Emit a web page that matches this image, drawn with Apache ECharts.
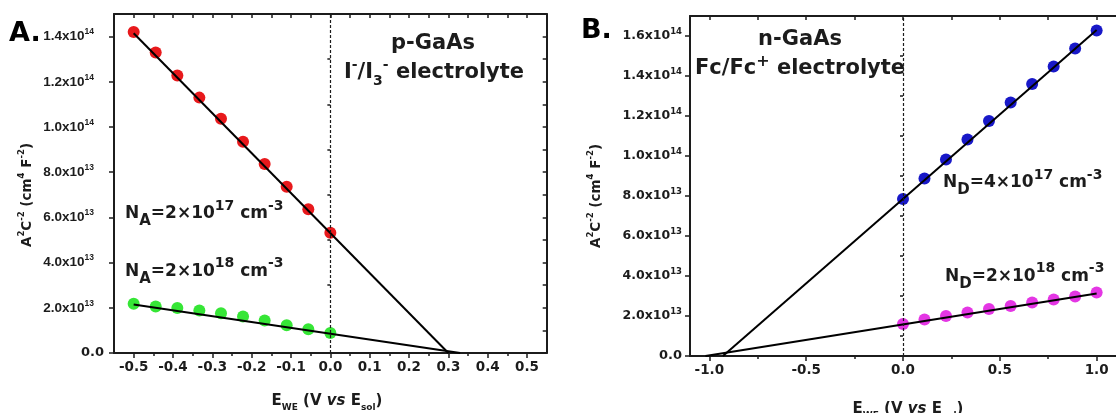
<!DOCTYPE html>
<html>
<head>
<meta charset="utf-8">
<script src="https://cdn.jsdelivr.net/npm/echarts@6/dist/echarts.min.js"></script>
<style>
  html, body { margin: 0; padding: 0; background: #fff; }
  #chart { width: 1116px; height: 413px; }
</style>
</head>
<body>
<div id="chart"></div>
<script>
// ---- Panel A: p-GaAs, I-/I3- electrolyte ----
const pPotential   = [-0.5, -0.444, -0.389, -0.333, -0.278, -0.222, -0.167, -0.111, -0.056, 0.0];
const pDoping2e17  = [1.42e14, 1.33e14, 1.228e14, 1.13e14, 1.036e14, 9.35e13, 8.36e13, 7.36e13, 6.36e13, 5.32e13];
const pDoping2e18  = [2.18e13, 2.06e13, 1.99e13, 1.88e13, 1.76e13, 1.61e13, 1.44e13, 1.23e13, 1.05e13, 8.8e12];
const pFit2e17     = [[-0.5, 1.415e14], [0.30, 0]];
const pFit2e18     = [[-0.5, 2.15e13], [0.33, 0]];

// ---- Panel B: n-GaAs, Fc/Fc+ electrolyte ----
const nPotential   = [0.0, 0.111, 0.222, 0.333, 0.444, 0.556, 0.667, 0.778, 0.889, 1.0];
const nDoping4e17  = [7.85e13, 8.88e13, 9.83e13, 1.083e14, 1.175e14, 1.267e14, 1.36e14, 1.447e14, 1.538e14, 1.627e14];
const nDoping2e18  = [1.6e13, 1.83e13, 2.0e13, 2.17e13, 2.35e13, 2.5e13, 2.67e13, 2.83e13, 2.97e13, 3.17e13];
const nFit4e17     = [[-0.93, 0], [1.0, 1.63e14]];
const nFit2e18     = [[-1.02, 0], [1.0, 3.13e13]];

// ---- axis ticks ----
const aXMajor = [-0.5, -0.4, -0.3, -0.2, -0.1, 0.0, 0.1, 0.2, 0.3, 0.4, 0.5];
const aXMinor = [-0.45, -0.35, -0.25, -0.15, -0.05, 0.05, 0.15, 0.25, 0.35, 0.45];
const aYMajor = [0, 2e13, 4e13, 6e13, 8e13, 1.0e14, 1.2e14, 1.4e14];
const aYMinor = [1e13, 3e13, 5e13, 7e13, 9e13, 1.1e14, 1.3e14];
const bXMajor = [-1.0, -0.5, 0.0, 0.5, 1.0];
const bXMinor = [-0.75, -0.25, 0.25, 0.75];
const bYMajor = [0, 2e13, 4e13, 6e13, 8e13, 1.0e14, 1.2e14, 1.4e14, 1.6e14];
const bYMinor = [1e13, 3e13, 5e13, 7e13, 9e13, 1.1e14, 1.3e14, 1.5e14];

const INK = '#1c1c1c';
const RED = '#e8191c', GREEN = '#36e636', BLUE = '#1818c8', MAGENTA = '#e436e4';
const BOLD = { fontFamily: 'DejaVu Sans', fontWeight: 'bold' };

function sciLabel(v) {
  if (v === 0) return '{z|0.0}';
  const exp = Math.floor(Math.log10(v) + 1e-9);
  const mant = (v / Math.pow(10, exp)).toFixed(1);
  return '{m|' + mant + 'x10}{e|' + exp + '}';
}

function xFrame(grid, min, max, major, minor) {
  const base = { gridIndex: grid, type: 'value', min: min, max: max, splitLine: { show: false } };
  const all = major.concat(minor).sort((a, b) => a - b);
  return [
    Object.assign({}, base, {
      position: 'bottom',
      axisLine: { show: true, onZero: false, lineStyle: { color: INK, width: 2 } },
      axisTick: { show: true, inside: false, length: 5, customValues: major, lineStyle: { color: INK, width: 1.5 } },
      axisLabel: { show: true, customValues: major, margin: 7, formatter: v => v.toFixed(1),
                   fontFamily: 'DejaVu Sans', fontWeight: 'bold', fontSize: 13.5, color: INK }
    }),
    Object.assign({}, base, {
      position: 'bottom',
      axisLine: { show: false },
      axisTick: { show: true, inside: false, length: 3, customValues: minor, lineStyle: { color: INK, width: 1.5 } },
      axisLabel: { show: false }
    }),
    Object.assign({}, base, {
      position: 'top',
      axisLine: { show: true, onZero: false, lineStyle: { color: INK, width: 2 } },
      axisTick: { show: true, inside: true, length: 4, customValues: all, lineStyle: { color: INK, width: 1.5 } },
      axisLabel: { show: false }
    })
  ];
}

function yFrame(grid, min, max, major, minor, labelFont, expPad, margin, withRight) {
  const base = { gridIndex: grid, type: 'value', min: min, max: max, splitLine: { show: false } };
  const axes = [
    Object.assign({}, base, {
      position: 'left',
      axisLine: { show: true, onZero: false, lineStyle: { color: INK, width: 2 } },
      axisTick: { show: true, inside: false, length: 5, customValues: major, lineStyle: { color: INK, width: 1.5 } },
      axisLabel: {
        show: true, customValues: major, margin: margin, formatter: sciLabel, color: INK,
        fontSize: labelFont.size, fontWeight: 'bold', fontFamily: labelFont.family,
        rich: {
          m: { fontFamily: labelFont.family, fontWeight: 'bold', fontSize: labelFont.size, lineHeight: 18, verticalAlign: 'middle', color: INK },
          e: { fontFamily: labelFont.family, fontWeight: 'bold', fontSize: 8.5, lineHeight: 9, verticalAlign: 'top', padding: [0, expPad, 0, 0], color: INK },
          z: { fontFamily: 'DejaVu Sans', fontWeight: 'bold', fontSize: 13, lineHeight: 18, verticalAlign: 'middle', color: INK }
        }
      }
    }),
    Object.assign({}, base, {
      position: 'left',
      axisLine: { show: false },
      axisTick: { show: true, inside: false, length: 3, customValues: minor, lineStyle: { color: INK, width: 1.5 } },
      axisLabel: { show: false }
    })
  ];
  if (withRight) {
    axes.push(Object.assign({}, base, {
      position: 'right',
      axisLine: { show: true, onZero: false, lineStyle: { color: INK, width: 2 } },
      axisTick: { show: true, inside: true, length: 4, customValues: major.concat(minor).filter(v => v > 0), lineStyle: { color: INK, width: 1.5 } },
      axisLabel: { show: false }
    }));
  }
  return axes;
}

const zeroLine = {
  silent: true, symbol: 'none', label: { show: false },
  lineStyle: { type: [3, 2], color: INK, width: 1.2 },
  data: [{ xAxis: 0 }]
};

function dots(name, xi, yi, xs, ys, color, withZero) {
  const s = {
    name: name, type: 'scatter', xAxisIndex: xi, yAxisIndex: yi,
    data: xs.map((x, i) => [x, ys[i]]),
    symbol: 'circle', symbolSize: 12, itemStyle: { color: color, opacity: 1 }, z: 2
  };
  if (withZero) s.markLine = zeroLine;
  return s;
}
function fit(name, xi, yi, pts) {
  return {
    name: name, type: 'line', xAxisIndex: xi, yAxisIndex: yi, data: pts,
    showSymbol: false, symbol: 'none', lineStyle: { color: '#000', width: 2 }, z: 3
  };
}

// rich text styles for annotations
const annRich = {
  n:  Object.assign({ fontSize: 17, lineHeight: 30, verticalAlign: 'middle', fill: INK }, BOLD),
  sb: Object.assign({ fontSize: 15, lineHeight: 15, verticalAlign: 'bottom', fill: INK }, BOLD),
  sp: Object.assign({ fontSize: 14, lineHeight: 14, verticalAlign: 'top', fill: INK }, BOLD)
};
const titleRich = {
  t:  Object.assign({ fontSize: 21, lineHeight: 30, verticalAlign: 'middle', fill: INK }, BOLD),
  sb: Object.assign({ fontSize: 14, lineHeight: 14, verticalAlign: 'bottom', fill: INK }, BOLD),
  sp: Object.assign({ fontSize: 14, lineHeight: 14, verticalAlign: 'top', fill: INK }, BOLD),
  pl: Object.assign({ fontSize: 16, lineHeight: 16, verticalAlign: 'top', fill: INK }, BOLD)
};
const yNameRich = {
  b:  Object.assign({ fontSize: 13.5, lineHeight: 20, verticalAlign: 'middle', fill: INK }, BOLD),
  sp: Object.assign({ fontSize: 8.5, lineHeight: 9, verticalAlign: 'top', fill: INK }, BOLD)
};
const xNameRich = {
  b:  Object.assign({ fontSize: 15, lineHeight: 22, verticalAlign: 'middle', fill: INK }, BOLD),
  i:  Object.assign({ fontSize: 15, lineHeight: 22, verticalAlign: 'middle', fontStyle: 'italic', fill: INK }, BOLD),
  sb: Object.assign({ fontSize: 9, lineHeight: 10, verticalAlign: 'bottom', fill: INK }, BOLD)
};

function txt(x, y, text, rich, opts) {
  return Object.assign({
    type: 'text', x: x, y: y, silent: true, z: 10,
    style: Object.assign({ text: text, rich: rich, align: 'left', verticalAlign: 'middle', fill: INK }, (opts && opts.style) || {})
  }, (opts && opts.el) || {});
}

const yNameText = '{b|A}{sp|2}{b|C}{sp|-2}{b| (cm}{sp|4}{b| F}{sp|-2}{b|)}';
const xNameText = '{b|E}{sb|WE}{b| (V }{i|vs}{b| E}{sb|sol}{b|)}';

const option = {
  animation: false,
  backgroundColor: '#fff',
  grid: [
    { left: 114, top: 14, width: 432.7, height: 339 },
    { left: 690, top: 16, width: 433.3, height: 340 }
  ],
  xAxis: [].concat(
    xFrame(0, -0.55, 0.55, aXMajor, aXMinor),
    xFrame(1, -1.1, 1.1, bXMajor, bXMinor)
  ),
  yAxis: [].concat(
    yFrame(0, 0, 1.5e14, aYMajor, aYMinor, { family: 'Liberation Sans', size: 13.5 }, 10, 10, true),
    yFrame(1, 0, 1.7e14, bYMajor, bYMinor, { family: 'DejaVu Sans', size: 12.5 }, 0, 8, false)
  ),
  series: [
    dots('p 2e17', 0, 0, pPotential, pDoping2e17, RED, true),
    dots('p 2e18', 0, 0, pPotential, pDoping2e18, GREEN, false),
    fit('p 2e17 fit', 0, 0, pFit2e17),
    fit('p 2e18 fit', 0, 0, pFit2e18),
    dots('n 4e17', 3, 3, nPotential, nDoping4e17, BLUE, true),
    dots('n 2e18', 3, 3, nPotential, nDoping2e18, MAGENTA, false),
    fit('n 4e17 fit', 3, 3, nFit4e17),
    fit('n 2e18 fit', 3, 3, nFit2e18)
  ],
  graphic: [
    // panel letters
    txt(9, 34, 'A.', null, { style: Object.assign({ fontSize: 27, fill: '#000' }, BOLD) }),
    txt(581, 31, 'B.', null, { style: Object.assign({ fontSize: 27, fill: '#000' }, BOLD) }),
    // panel titles
    txt(433, 44, '{t|p-GaAs}', titleRich, { style: { align: 'center' } }),
    txt(434, 73, '{t|I}{sp|-}{t|/I}{sb|3}{sp|-}{t| electrolyte}', titleRich, { style: { align: 'center' } }),
    txt(800, 40, '{t|n-GaAs}', titleRich, { style: { align: 'center' } }),
    txt(800, 69, '{t|Fc/Fc}{pl|+}{t| electrolyte}', titleRich, { style: { align: 'center' } }),
    // doping annotations
    txt(125, 214, '{n|N}{sb|A}{n|=2×10}{sp|17}{n| cm}{sp|-3}', annRich),
    txt(125, 271.5, '{n|N}{sb|A}{n|=2×10}{sp|18}{n| cm}{sp|-3}', annRich),
    txt(943, 183, '{n|N}{sb|D}{n|=4×10}{sp|17}{n| cm}{sp|-3}', annRich),
    txt(945, 276.5, '{n|N}{sb|D}{n|=2×10}{sp|18}{n| cm}{sp|-3}', annRich),
    // axis titles
    txt(27.5, 195, yNameText, yNameRich, { style: { align: 'center' }, el: { rotation: Math.PI / 2 } }),
    txt(596, 196, yNameText, yNameRich, { style: { align: 'center' }, el: { rotation: Math.PI / 2 } }),
    txt(327, 401, xNameText, xNameRich, { style: { align: 'center' } }),
    txt(908, 409, xNameText, xNameRich, { style: { align: 'center' } })
  ]
};

const chart = echarts.init(document.getElementById('chart'));
chart.setOption(option);
</script>
</body>
</html>
